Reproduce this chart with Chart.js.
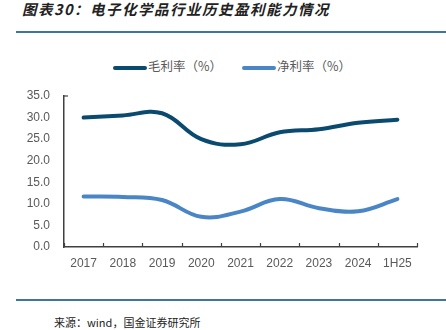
<!DOCTYPE html>
<html><head><meta charset="utf-8">
<script src="https://cdn.jsdelivr.net/npm/chart.js@4"></script>
<style>
html,body{margin:0;padding:0;background:#fff;width:446px;height:330px;overflow:hidden;position:relative;font-family:"Liberation Sans","Noto Sans CJK SC",sans-serif;}
#title{position:absolute;left:22px;top:-2px;font:italic bold 14.5px "Noto Sans CJK SC";letter-spacing:1.5px;color:#222;white-space:nowrap;}
.rule{position:absolute;left:16px;width:430px;height:2px;background:#3f7599;}
#src{position:absolute;left:54px;top:314px;font:11px "Noto Sans CJK SC";color:#222;white-space:nowrap;}
#legend{position:absolute;top:54px;left:9px;width:446px;text-align:center;font:12.5px "Noto Sans CJK SC";color:#595959;}
.li{display:inline-block;margin:0 10px;vertical-align:middle;}
.sw{display:inline-block;width:34px;height:4px;border-radius:2px;vertical-align:middle;margin-right:1px;}
#wrap{position:absolute;left:0;top:50px;width:446px;height:250px;}
</style></head><body>
<div id="title">图表30：电子化学品行业历史盈利能力情况</div>
<div class="rule" style="top:31px"></div>
<div id="legend"></div>
<div id="wrap"><canvas id="c"></canvas></div>
<div class="rule" style="top:299px"></div>
<div id="src">来源：wind，国金证券研究所</div>
<script>
const categories = ["2017","2018","2019","2020","2021","2022","2023","2024","1H25"];
const grossMargin = [30.0, 30.5, 31.0, 25.0, 23.8, 26.6, 27.3, 28.8, 29.5];
const netMargin = [11.7, 11.6, 10.9, 7.0, 8.2, 11.1, 9.0, 8.3, 11.1];
const seriesNames = ["毛利率（%）", "净利率（%）"];
const seriesColors = ["#0b4a6f", "#4a86c6"];
const yTicks = [0,5,10,15,20,25,30,35];

const lg = document.getElementById('legend');
seriesNames.forEach((n,i)=>{
  const s=document.createElement('span');s.className='li';
  s.innerHTML='<span class="sw" style="background:'+seriesColors[i]+'"></span>'+n;
  lg.appendChild(s);
});

const axisColor = '#404040';
const tickPlugin = {
  id:'innerTicks',
  afterDraw(chart){
    const ctx=chart.ctx, xs=chart.scales.x, ys=chart.scales.y;
    ctx.save();
    ctx.strokeStyle=axisColor;ctx.lineWidth=1.2;
    const b=ys.bottom;
    for(let i=0;i<=categories.length;i++){
      const px = xs.getPixelForValue(i-0.5);
      ctx.beginPath();ctx.moveTo(Math.round(px)+0.5,b);ctx.lineTo(Math.round(px)+0.5,b-4);ctx.stroke();
    }
    ctx.beginPath();ctx.moveTo(xs.left,ys.top);ctx.lineTo(xs.left+4,ys.top);ctx.stroke();
    ctx.restore();
  }
};

new Chart(document.getElementById('c'),{
  type:'line',
  data:{labels:categories,datasets:[
    {label:seriesNames[0],data:grossMargin,borderColor:seriesColors[0],backgroundColor:seriesColors[0],borderWidth:4,pointRadius:0,tension:0.4,borderCapStyle:'round'},
    {label:seriesNames[1],data:netMargin,borderColor:seriesColors[1],backgroundColor:seriesColors[1],borderWidth:4,pointRadius:0,tension:0.4,borderCapStyle:'round'}
  ]},
  options:{
    responsive:true,maintainAspectRatio:false,animation:false,
    layout:{padding:{top:46,right:29,left:0,bottom:0}},
    plugins:{legend:{display:false},tooltip:{enabled:false}},
    scales:{
      x:{offset:true,
        grid:{display:false,drawTicks:false},
        border:{display:true,color:axisColor,width:1.5},
        ticks:{color:'#595959',font:{family:'Liberation Sans',size:12},padding:9,maxRotation:0,autoSkip:false},
        afterFit(s){s.height=53;}
      },
      y:{min:0,max:35,
        afterBuildTicks(s){s.ticks=yTicks.map(v=>({value:v}));},
        grid:{display:false,drawTicks:false},
        border:{display:true,color:axisColor,width:1.5},
        ticks:{color:'#595959',font:{family:'Liberation Sans',size:12},padding:14,callback:v=>v.toFixed(1)},
        afterFit(s){s.width=64;}
      }
    }
  },
  plugins:[tickPlugin]
});
</script>
</body></html>
